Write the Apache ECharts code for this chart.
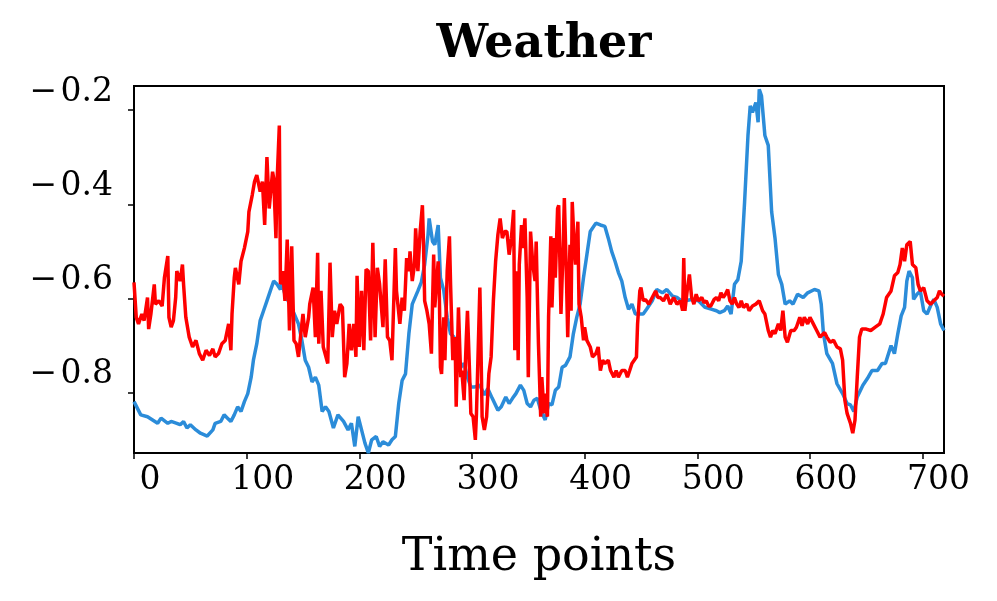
<!DOCTYPE html>
<html>
<head>
<meta charset="utf-8">
<title>Weather</title>
<script src="https://cdn.jsdelivr.net/npm/echarts@6/dist/echarts.min.js"></script>
<style>
  html, body { margin: 0; padding: 0; background: #fff; }
  #chart { width: 997px; height: 601px; }
</style>
</head>
<body>
<div id="chart"></div>
<script>
// time points / values
var blueX = [0,6,12,21,24,30,33,38,41,44,47,50,55,59,65,70,72,77,80,83,86,89,92,95,98,101,104,106,109,112,115,118,121,124,127,130,131,134,141,146,149,152,155,158,161,164,167,170,173,177,181,186,190,193,196,199,202,205,208,211,215,218,221,226,229,232,235,238,241,244,247,252,255,258,261,262,265,267,270,272,275,278,281,284,287,290,293,296,299,302,307,311,314,318,323,326,330,333,336,339,343,346,349,352,355,358,361,365,368,371,374,377,380,383,387,390,393,396,399,402,405,410,414,418,421,424,427,430,433,436,439,442,445,450,452,455,460,464,469,473,478,482,486,489,495,501,507,513,517,520,524,527,530,533,536,539,542,545,547,549,552,554,555,557,560,563,566,569,572,575,578,582,585,589,594,598,604,608,610,612,615,620,624,629,633,636,639,642,647,651,655,660,664,667,672,675,678,681,684,686,688,691,692,695,698,701,704,707,710,713,716,719];
var blueY = [-0.819,-0.847,-0.851,-0.865,-0.854,-0.865,-0.861,-0.865,-0.868,-0.861,-0.875,-0.868,-0.879,-0.886,-0.892,-0.879,-0.865,-0.861,-0.847,-0.854,-0.861,-0.847,-0.830,-0.840,-0.819,-0.802,-0.767,-0.731,-0.696,-0.647,-0.626,-0.605,-0.584,-0.563,-0.570,-0.581,-0.566,-0.591,-0.626,-0.654,-0.689,-0.731,-0.746,-0.777,-0.767,-0.784,-0.840,-0.830,-0.840,-0.875,-0.847,-0.861,-0.879,-0.865,-0.914,-0.851,-0.879,-0.907,-0.928,-0.900,-0.893,-0.914,-0.904,-0.911,-0.900,-0.893,-0.823,-0.774,-0.760,-0.675,-0.612,-0.584,-0.566,-0.528,-0.465,-0.430,-0.479,-0.486,-0.444,-0.556,-0.584,-0.640,-0.675,-0.682,-0.710,-0.746,-0.738,-0.767,-0.788,-0.788,-0.784,-0.805,-0.791,-0.812,-0.837,-0.830,-0.809,-0.823,-0.812,-0.802,-0.784,-0.795,-0.823,-0.830,-0.816,-0.812,-0.837,-0.858,-0.823,-0.826,-0.795,-0.788,-0.746,-0.742,-0.724,-0.675,-0.640,-0.612,-0.556,-0.507,-0.458,-0.440,-0.444,-0.447,-0.472,-0.500,-0.521,-0.545,-0.563,-0.598,-0.623,-0.612,-0.633,-0.633,-0.633,-0.623,-0.605,-0.581,-0.588,-0.581,-0.595,-0.598,-0.605,-0.605,-0.602,-0.605,-0.619,-0.623,-0.626,-0.630,-0.626,-0.616,-0.633,-0.570,-0.560,-0.521,-0.395,-0.254,-0.191,-0.205,-0.184,-0.226,-0.156,-0.170,-0.254,-0.275,-0.416,-0.472,-0.549,-0.570,-0.612,-0.605,-0.612,-0.591,-0.598,-0.588,-0.581,-0.584,-0.612,-0.675,-0.717,-0.738,-0.781,-0.802,-0.823,-0.826,-0.840,-0.809,-0.784,-0.770,-0.753,-0.753,-0.738,-0.738,-0.700,-0.717,-0.675,-0.637,-0.619,-0.563,-0.542,-0.556,-0.602,-0.591,-0.584,-0.626,-0.633,-0.616,-0.602,-0.619,-0.654,-0.668];

var redX = [0,2,4,7,9,12,13,15,18,19,22,25,27,30,31,33,35,37,38,41,43,44,46,49,52,55,58,61,64,67,70,72,75,78,81,84,86,87,89,90,93,95,98,101,102,105,107,109,112,114,116,118,120,123,124,126,127,129,130,132,134,136,138,140,142,144,146,149,150,152,155,156,159,161,163,164,166,168,172,174,176,178,180,183,185,187,189,191,193,195,197,198,200,202,204,206,208,210,212,214,216,218,221,223,225,227,229,232,233,236,238,240,242,244,245,247,249,250,252,254,256,257,258,260,262,264,265,266,267,270,271,272,273,275,276,278,280,281,283,285,286,288,290,291,293,295,296,298,299,301,303,304,307,308,309,311,313,315,317,319,321,323,325,327,329,331,333,335,337,338,340,341,342,344,345,347,349,350,352,354,356,357,359,361,362,364,365,367,368,370,371,373,374,376,377,379,381,382,384,385,387,388,389,391,392,394,395,397,399,400,402,405,407,410,412,414,416,418,421,423,426,428,430,433,436,438,440,442,444,446,447,449,450,452,454,457,460,463,465,467,470,473,476,479,482,485,487,488,489,491,493,495,497,499,501,504,506,508,510,512,515,517,519,521,523,525,527,529,531,533,535,537,539,541,544,546,549,552,555,558,560,563,565,567,569,572,574,576,578,580,583,586,588,591,593,595,598,600,603,606,609,613,615,618,621,624,627,629,631,633,636,638,640,642,644,646,650,654,658,662,665,668,672,675,678,680,682,684,686,689,691,694,696,698,701,704,707,710,713,715,717,719];
var redY = [-0.566,-0.640,-0.654,-0.633,-0.647,-0.598,-0.665,-0.633,-0.570,-0.612,-0.605,-0.616,-0.556,-0.510,-0.640,-0.661,-0.647,-0.598,-0.542,-0.563,-0.528,-0.570,-0.640,-0.682,-0.703,-0.689,-0.717,-0.731,-0.710,-0.721,-0.707,-0.724,-0.717,-0.696,-0.689,-0.654,-0.710,-0.633,-0.556,-0.535,-0.570,-0.521,-0.493,-0.458,-0.416,-0.380,-0.352,-0.338,-0.373,-0.352,-0.444,-0.300,-0.409,-0.331,-0.345,-0.472,-0.352,-0.233,-0.570,-0.542,-0.605,-0.475,-0.668,-0.489,-0.689,-0.696,-0.724,-0.654,-0.633,-0.682,-0.640,-0.612,-0.577,-0.682,-0.503,-0.696,-0.584,-0.703,-0.738,-0.524,-0.682,-0.626,-0.654,-0.612,-0.619,-0.767,-0.738,-0.654,-0.710,-0.654,-0.724,-0.552,-0.703,-0.584,-0.710,-0.538,-0.542,-0.689,-0.482,-0.682,-0.535,-0.570,-0.661,-0.517,-0.682,-0.689,-0.731,-0.493,-0.584,-0.654,-0.598,-0.626,-0.514,-0.542,-0.500,-0.563,-0.528,-0.451,-0.542,-0.458,-0.402,-0.486,-0.605,-0.626,-0.654,-0.717,-0.717,-0.507,-0.619,-0.521,-0.584,-0.746,-0.760,-0.640,-0.731,-0.542,-0.468,-0.570,-0.731,-0.682,-0.830,-0.619,-0.767,-0.753,-0.816,-0.682,-0.626,-0.767,-0.844,-0.851,-0.900,-0.844,-0.577,-0.703,-0.851,-0.879,-0.851,-0.760,-0.724,-0.605,-0.521,-0.465,-0.430,-0.472,-0.458,-0.458,-0.507,-0.472,-0.412,-0.710,-0.542,-0.731,-0.528,-0.444,-0.493,-0.430,-0.598,-0.767,-0.458,-0.528,-0.563,-0.479,-0.696,-0.851,-0.767,-0.844,-0.802,-0.851,-0.640,-0.468,-0.619,-0.472,-0.556,-0.409,-0.402,-0.633,-0.486,-0.387,-0.570,-0.682,-0.486,-0.626,-0.395,-0.500,-0.528,-0.437,-0.612,-0.640,-0.689,-0.661,-0.689,-0.703,-0.724,-0.717,-0.703,-0.753,-0.731,-0.738,-0.731,-0.753,-0.767,-0.753,-0.767,-0.753,-0.753,-0.767,-0.753,-0.738,-0.731,-0.724,-0.654,-0.584,-0.577,-0.605,-0.602,-0.612,-0.598,-0.584,-0.598,-0.598,-0.605,-0.591,-0.612,-0.598,-0.612,-0.605,-0.626,-0.514,-0.626,-0.584,-0.549,-0.598,-0.612,-0.591,-0.605,-0.598,-0.609,-0.605,-0.616,-0.616,-0.602,-0.598,-0.605,-0.588,-0.598,-0.591,-0.581,-0.605,-0.612,-0.598,-0.612,-0.619,-0.605,-0.619,-0.612,-0.626,-0.616,-0.612,-0.605,-0.626,-0.633,-0.668,-0.682,-0.668,-0.675,-0.654,-0.668,-0.626,-0.682,-0.693,-0.668,-0.668,-0.661,-0.640,-0.658,-0.640,-0.654,-0.640,-0.654,-0.668,-0.682,-0.672,-0.682,-0.693,-0.689,-0.703,-0.707,-0.731,-0.816,-0.844,-0.865,-0.886,-0.858,-0.767,-0.682,-0.665,-0.665,-0.668,-0.661,-0.654,-0.633,-0.598,-0.584,-0.552,-0.545,-0.528,-0.493,-0.521,-0.486,-0.479,-0.528,-0.535,-0.570,-0.584,-0.577,-0.605,-0.612,-0.605,-0.598,-0.584,-0.591,-0.595];

var xTicks = [0, 100, 200, 300, 400, 500, 600, 700];
var yTicks = [-0.8, -0.6, -0.4, -0.2];

function pairs(xs, ys) {
	var out = [];
	for (var i = 0; i < xs.length; i++) {
		out.push([xs[i], ys[i]]);
	}
	return out;
}

var serif = 'DejaVu Serif';
var chart = echarts.init(document.getElementById('chart'), null, { renderer: 'canvas' });

var option = {
	animation: false,
	backgroundColor: '#ffffff',
	title: {
		text: 'Weather',
		left: 539,
		top: 17,
		textAlign: 'center',
		textStyle: {
			fontFamily: serif,
			fontWeight: 'bold',
			fontSize: 46,
			color: '#000'
		}
	},
	grid: {
		left: 134,
		right: 53,
		top: 86,
		bottom: 148,
		show: true,
		borderColor: '#000',
		borderWidth: 2,
		backgroundColor: 'transparent'
	},
	xAxis: {
		type: 'value',
		min: 0,
		max: 719,
		name: 'Time points',
		nameLocation: 'middle',
		nameGap: 82,
		nameTextStyle: {
			fontFamily: serif,
			fontSize: 46,
			color: '#000'
		},
		axisLine: { lineStyle: { color: '#000', width: 2 } },
		axisTick: {
			customValues: xTicks,
			length: 6,
			lineStyle: { color: '#000', width: 1.5 }
		},
		axisLabel: {
			customValues: xTicks,
			fontFamily: serif,
			fontSize: 33,
			color: '#000',
			margin: 11,
			padding: [0, 0, 0, 32]
		},
		splitLine: { show: false }
	},
	yAxis: {
		type: 'value',
		min: -0.928,
		max: -0.149,
		axisLine: { show: true, lineStyle: { color: '#000', width: 2 } },
		axisTick: {
			show: true,
			customValues: yTicks,
			length: 6,
			lineStyle: { color: '#000', width: 1.5 }
		},
		axisLabel: {
			customValues: yTicks,
			fontFamily: serif,
			fontSize: 33,
			color: '#000',
			margin: 21,
			verticalAlign: 'bottom',
			lineHeight: 36,
			formatter: function (v) {
				var s = v.toFixed(1);
				return s.charAt(0) === '-' ? '\u2212\u200A' + s.slice(1) : s;
			}
		},
		splitLine: { show: false }
	},
	series: [{
		name: 'blue',
		type: 'line',
		showSymbol: false,
		data: pairs(blueX, blueY),
		lineStyle: { color: '#2b8cd9', width: 3.5 },
		itemStyle: { color: '#2b8cd9' },
		z: 2
	}, {
		name: 'red',
		type: 'line',
		showSymbol: false,
		data: pairs(redX, redY),
		lineStyle: { color: '#ff0000', width: 3.5 },
		itemStyle: { color: '#ff0000' },
		z: 3
	}]
};

chart.setOption(option);
</script>
</body>
</html>
